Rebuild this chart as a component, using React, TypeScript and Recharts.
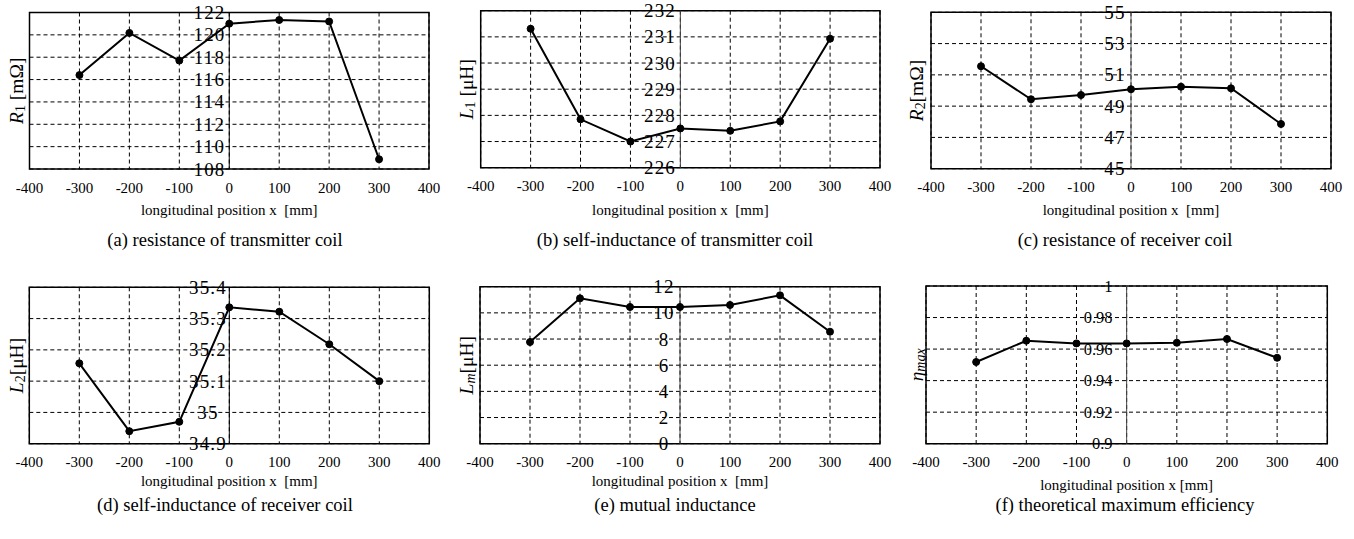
import React from 'react';
import { LineChart, Line, XAxis, YAxis, CartesianGrid, ReferenceLine, ReferenceArea } from 'recharts';

const serif = '"Liberation Serif", "DejaVu Serif", serif';

// measurement positions along the track [mm]
const positions = [-300, -200, -100, 0, 100, 200, 300];
const xTicks = [-400, -300, -200, -100, 0, 100, 200, 300, 400];

const r1Values = [116.4, 120.17, 117.7, 121.0, 121.33, 121.2, 108.87];
const r1Ticks = [108, 110, 112, 114, 116, 118, 120, 122];

const l1Values = [231.31, 227.85, 227.0, 227.5, 227.41, 227.77, 230.93];
const l1Ticks = [226, 227, 228, 229, 230, 231, 232];

const r2Values = [51.55, 49.44, 49.71, 50.08, 50.24, 50.14, 47.86];
const r2Ticks = [45, 47, 49, 51, 53, 55];

const l2Values = [35.157, 34.94, 34.97, 35.336, 35.322, 35.218, 35.1];
const l2Ticks = [34.9, 35, 35.1, 35.2, 35.3, 35.4];

const lmValues = [7.77, 11.11, 10.45, 10.45, 10.6, 11.34, 8.56];
const lmTicks = [0, 2, 4, 6, 8, 10, 12];

const etaValues = [0.9518, 0.9653, 0.9636, 0.9636, 0.964, 0.9664, 0.9545];
const etaTicks = [0.9, 0.92, 0.94, 0.96, 0.98, 1];

interface Plot { l: number; r: number; t: number; b: number; }

interface PanelProps {
    left: number;
    top: number;
    plot: Plot;
    values: number[];
    ticks: number[];
    tickX: number;
    tickAnchor: 'middle' | 'end';
    tickFont: number;
    tickSpacing: number;
    main: string;
    sub: string;
    subItalic?: boolean;
    unit: string;
    title: string;
    titleOffset: number;
    caption: string;
    captionTop: number;
    zeroColor: string;
}

function YLabel(props: any) {
    const { posX, posY, main, sub, subItalic, unit } = props;
    return <text transform={`rotate(-90 ${posX} ${posY})`} x={posX} y={posY} textAnchor="middle"
        dominantBaseline="central" fontSize={19.5} fontFamily={serif} fill="#000">
        <tspan fontStyle="italic">{main}</tspan>
        <tspan fontSize={14} dy={4} fontStyle={subItalic ? 'italic' : 'normal'}>{sub}</tspan>
        <tspan dy={-4}>{unit}</tspan>
    </text>;
}

function XTitle(props: any) {
    return <text x={props.posX} y={props.posY} textAnchor="middle" dominantBaseline="central"
        fontSize={15} fontFamily={serif} fill="#000" style={{ whiteSpace: 'pre' }}>{props.text}</text>;
}

function Panel(p: PanelProps) {
    const W = 450, H = 230, axisH = 50, yW = 4;
    const data = positions.map((x, i) => ({ x, v: p.values[i] }));
    const cx = (p.plot.l + p.plot.r) / 2;
    const cy = (p.plot.t + p.plot.b) / 2;
    const yMin = p.ticks[0];
    const yMax = p.ticks[p.ticks.length - 1];
    const yTick = (t: any) => <text x={p.tickX} y={t.y} textAnchor={p.tickAnchor} dominantBaseline="central"
        fontSize={p.tickFont} letterSpacing={p.tickSpacing} fontFamily={serif} fill="#000">{t.payload.value}</text>;
    return <div style={{ position: 'absolute', left: p.left, top: p.top, width: W }}>
        <LineChart width={W} height={H} data={data}
            margin={{ left: p.plot.l - yW, right: W - p.plot.r, top: p.plot.t, bottom: H - p.plot.b - axisH }}>
            <CartesianGrid stroke="#000" strokeWidth={1} strokeDasharray="4 3" />
            <XAxis type="number" dataKey="x" domain={[-400, 400]} ticks={xTicks} height={axisH}
                tickLine={false} axisLine={false} tickSize={0} tickMargin={13} interval={0}
                tick={{ fill: '#000', fontSize: 15, fontFamily: serif }}
                label={<XTitle posX={cx} posY={p.plot.b + p.titleOffset} text={p.title} />} />
            <YAxis type="number" domain={[yMin, yMax]} ticks={p.ticks} width={yW} interval={0}
                tickLine={false} axisLine={false} tick={yTick}
                label={<YLabel posX={16} posY={cy} main={p.main} sub={p.sub} subItalic={p.subItalic} unit={p.unit} />} />
            <ReferenceLine x={0} stroke={p.zeroColor} strokeWidth={1} />
            <ReferenceArea x1={-400} x2={400} y1={yMin} y2={yMax} fill="none" fillOpacity={0}
                stroke="#000" strokeWidth={1.5} />
            <Line type="linear" dataKey="v" stroke="#000" strokeWidth={2}
                dot={{ r: 3.5, fill: '#000', stroke: '#000', strokeWidth: 1 }} isAnimationActive={false} />
        </LineChart>
        <div style={{ position: 'absolute', left: 0, top: p.captionTop, width: W, textAlign: 'center',
            fontFamily: serif, fontSize: 18.5, lineHeight: '20px', color: '#000' }}>{p.caption}</div>
    </div>;
}

export default function App() {
    return <div style={{ position: 'absolute', left: 0, top: 0, width: 1354, height: 539, background: '#fff' }}>
        <Panel left={0} top={0} plot={{ l: 29.5, r: 429, t: 12.5, b: 169 }} values={r1Values} ticks={r1Ticks}
            tickX={209.5} tickAnchor="middle" tickFont={19} tickSpacing={1.2}
            main="R" sub="1" unit=" [mΩ]" title="longitudinal position x  [mm]" titleOffset={41}
            caption="(a) resistance of transmitter coil" captionTop={230} zeroColor="#000" />
        <Panel left={450} top={0} plot={{ l: 30.7, r: 430, t: 10.7, b: 167.7 }} values={l1Values} ticks={l1Ticks}
            tickX={210} tickAnchor="middle" tickFont={19} tickSpacing={1.2}
            main="L" sub="1" unit=" [μH]" title="longitudinal position x  [mm]" titleOffset={42}
            caption="(b) self-inductance of transmitter coil" captionTop={230} zeroColor="#444" />
        <Panel left={900} top={0} plot={{ l: 31, r: 431, t: 12.3, b: 168.7 }} values={r2Values} ticks={r2Ticks}
            tickX={215} tickAnchor="middle" tickFont={19} tickSpacing={1.2}
            main="R" sub="2" unit="[mΩ]" title="longitudinal position x  [mm]" titleOffset={41}
            caption="(c) resistance of receiver coil" captionTop={230} zeroColor="#555" />
        <Panel left={0} top={270} plot={{ l: 29.3, r: 429.3, t: 17.3, b: 173.7 }} values={l2Values} ticks={l2Ticks}
            tickX={208} tickAnchor="middle" tickFont={19} tickSpacing={1.2}
            main="L" sub="2" unit="[μH]" title="longitudinal position x  [mm]" titleOffset={37}
            caption="(d) self-inductance of receiver coil" captionTop={225} zeroColor="#000" />
        <Panel left={450} top={270} plot={{ l: 30, r: 430, t: 16.7, b: 173.7 }} values={lmValues} ticks={lmTicks}
            tickX={214} tickAnchor="middle" tickFont={19} tickSpacing={1.2}
            main="L" sub="m" subItalic unit="[μH]" title="longitudinal position x  [mm]" titleOffset={37}
            caption="(e) mutual inductance" captionTop={225} zeroColor="#444" />
        <Panel left={900} top={270} plot={{ l: 26, r: 427.3, t: 16, b: 173.7 }} values={etaValues} ticks={etaTicks}
            tickX={212.5} tickAnchor="end" tickFont={16.5} tickSpacing={0}
            main="η" sub="max" subItalic unit="" title="longitudinal position x [mm]" titleOffset={41}
            caption="(f) theoretical maximum efficiency" captionTop={225} zeroColor="#444" />
    </div>;
}
